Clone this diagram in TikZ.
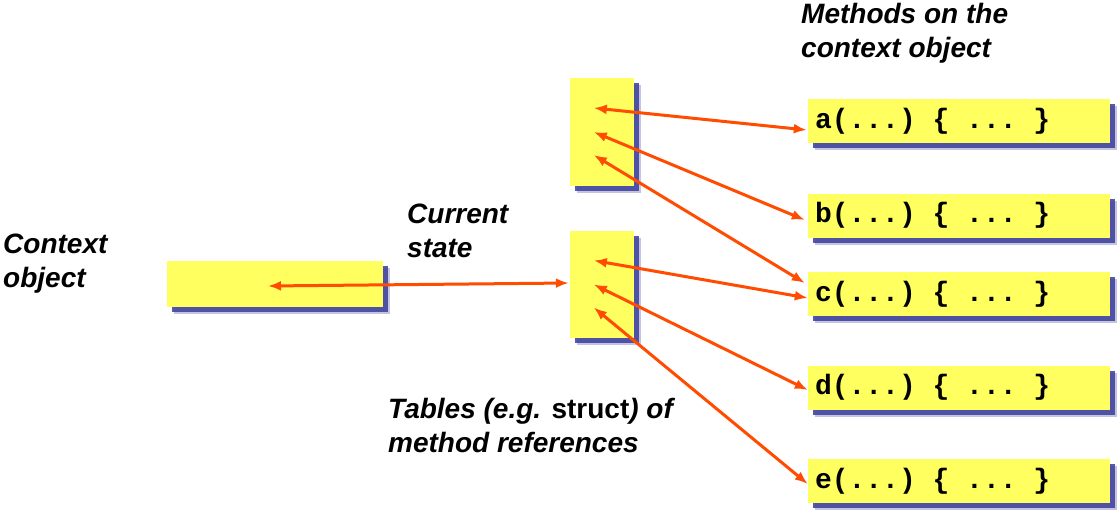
\documentclass[tikz,border=0pt]{standalone}
\usepackage{fontspec}
\setmainfont{Liberation Sans}
\setmonofont{Liberation Mono}
\newfontface\upbold{Liberation Sans Bold}
\usetikzlibrary{arrows.meta,shadows}
\definecolor{boxyellow}{RGB}{255,255,96}
\definecolor{shadowblue}{RGB}{58,61,153}
\definecolor{linkred}{RGB}{255,76,0}
\newcommand\tgap{\hspace*{0.6em}}

\begin{document}
\begin{tikzpicture}[x=1pt,y=-1pt,join=round, % context object and its method tables
  slot/.style={fill=boxyellow,inner sep=0pt,
    drop shadow={shadow xshift=7pt,shadow yshift=-7pt,fill=shadowblue,opacity=.3},
    drop shadow={shadow xshift=5pt,shadow yshift=-5pt,fill=shadowblue,opacity=.85}},
  method/.style={slot,minimum height=44pt,text width=288pt,inner xsep=7pt,align=left,
    font=\fontsize{28}{30}\selectfont\ttfamily\bfseries},
  note/.style={anchor=north west,inner sep=0pt,align=left,
    font=\fontsize{28}{34}\selectfont\bfseries\itshape},
  link/.style={{Latex[length=13pt,width=10pt]}-{Latex[length=13pt,width=10pt]},draw=linkred,line width=3pt}]
        \useasboundingbox (0,0) rectangle (1120,517);
        \node[slot,minimum width=216pt,minimum height=46pt] (ctx) at (275,284) {};
        \node[slot,minimum width=64pt,minimum height=108pt] (tabA) at (602,132) {};
        \node[slot,minimum width=64pt,minimum height=107pt] (tabB) at (602,284.5) {};
        \node[method] (ma) at (959,121) {a(...)\tgap\{\tgap...\tgap\}};
        \node[method] (mb) at (959,215.5) {b(...)\tgap\{\tgap...\tgap\}};
        \node[method] (mc) at (959,294) {c(...)\tgap\{\tgap...\tgap\}};
        \node[method] (md) at (959,387.5) {d(...)\tgap\{\tgap...\tgap\}};
        \node[method] (me) at (959,481) {e(...)\tgap\{\tgap...\tgap\}};
        \draw[link] ([xshift=-7pt,yshift=-2pt]ctx.center) -- ([xshift=-1pt,yshift=1.5pt]tabB.west);
        \draw[link] ([xshift=24pt,yshift=24pt]tabA.west) -- ([xshift=-1pt,yshift=-9pt]ma.west);
        \draw[link] ([xshift=24pt]tabA.west) -- ([xshift=-3pt,yshift=-4.5pt]mb.west);
        \draw[link] ([xshift=24pt,yshift=-23pt]tabA.west) -- ([xshift=-3pt,yshift=11pt]mc.west);
        \draw[link] ([xshift=24pt,yshift=24pt]tabB.west) -- ([yshift=-4pt]mc.west);
        \draw[link] ([xshift=24pt]tabB.west) -- ([yshift=-2.5pt]md.west);
        \draw[link] ([xshift=24pt,yshift=-23pt]tabB.west) -- ([yshift=-3pt]me.west);
        \node[note] (methods) at (801,3) {Methods on the\\context object};
        \node[note] (ctxname) at (3,234) {Context\\object};
        \node[note] (state) at (407,204) {Current\\state};
        \node[note] (tables) at (388,398) {Tables (e.g. {\upbold struct}) of\\method references};
\end{tikzpicture}
\end{document}
